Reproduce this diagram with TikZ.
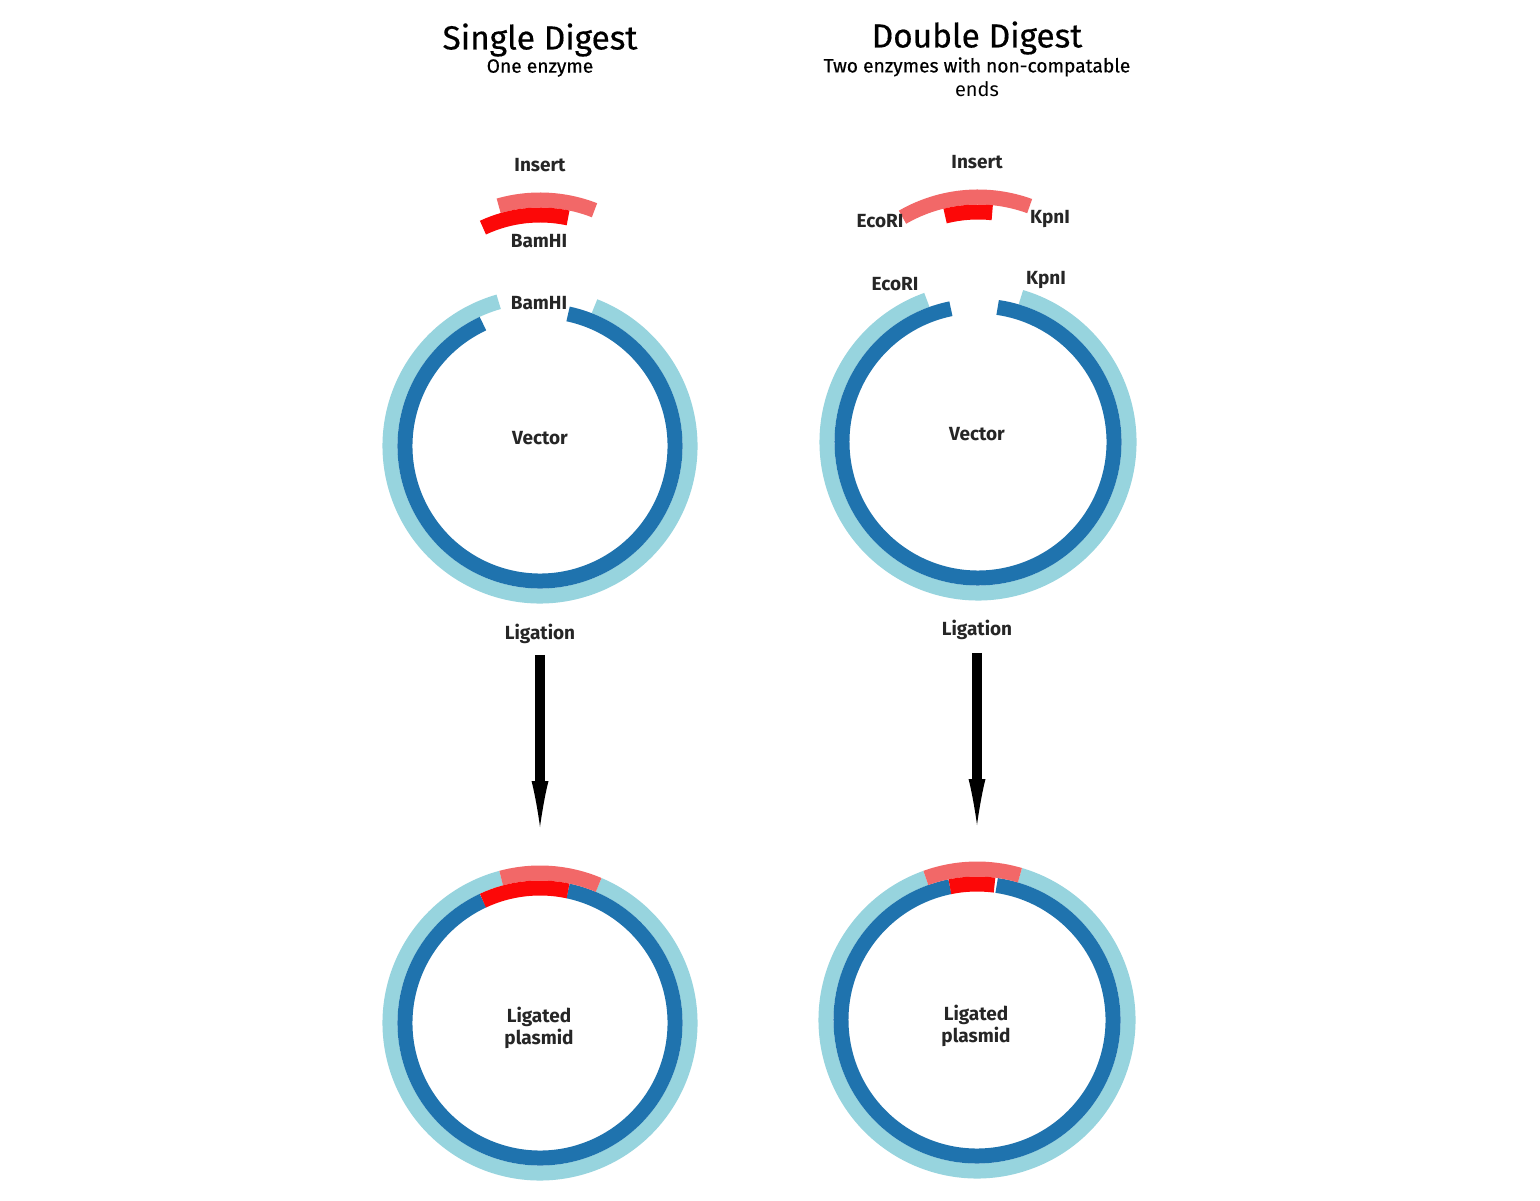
\documentclass[tikz,border=0pt]{standalone}
\usepackage{fontspec}
\setmainfont{Fira Sans}
\usetikzlibrary{arrows.meta, calc}

\definecolor{ringLight}{HTML}{97D4DE}
\definecolor{ringDark}{HTML}{1F73AE}
\definecolor{insLight}{HTML}{F26868}
\definecolor{insDark}{HTML}{FC0808}

\tikzset{
  lightring/.style = {line width = 7.5pt, color = ringLight},
  darkring/.style = {line width = 7.5pt, color = ringDark},
  lightins/.style = {line width = 7.5pt, color = insLight},
  darkins/.style = {line width = 7.5pt, color = insDark},
  plaslabel/.style = {font = \fontsize{9.5}{11}\selectfont\bfseries, text = black!85},
  ligarrow/.style = {line width=5pt, arrows={-Latex[length=23pt,width=8.5pt,line width=0pt]}}
}

% arc of a plasmid: center, radius (px), start angle, end angle, style
\newcommand{\plasarc}[5]{
  \draw[#5] ($(#1) + (#3:#2)$) arc[start angle = #3, end angle = #4, radius = #2*0.5pt];
}

\begin{document}
\begin{tikzpicture}[x = 0.5pt, y = 0.5pt]
        \useasboundingbox[fill = white] (0, 0) rectangle (1540, 1200);

        % centers
        \coordinate (lv) at (540, 754);
        \coordinate (li) at (540, 850);
        \coordinate (lp) at (540, 177);
        \coordinate (rv) at (978, 758);
        \coordinate (ri) at (978, 852);
        \coordinate (rp) at (977, 180);

        % single digest vector and insert
        \plasarc{lv}{150}{106}{428.7}{lightring}
        \plasarc{lv}{135}{115}{438}{darkring}
        \plasarc{li}{150}{68.7}{106}{lightins}
        \plasarc{li}{135}{78}{115}{darkins}

        % single digest ligated plasmid
        \plasarc{lp}{150}{105}{427}{lightring}
        \plasarc{lp}{135}{115}{438}{darkring}
        \plasarc{lp}{150}{67}{105}{lightins}
        \plasarc{lp}{135}{78}{115}{darkins}

        % double digest vector and insert
        \plasarc{rv}{151}{109.8}{433.5}{lightring}
        \plasarc{rv}{136}{101.5}{441.7}{darkring}
        \plasarc{ri}{151}{70}{120}{lightins}
        \plasarc{ri}{136}{84}{104}{darkins}

        % double digest ligated plasmid
        \plasarc{rp}{151}{109.8}{433.5}{lightring}
        \plasarc{rp}{136}{101.5}{441.7}{darkring}
        \plasarc{rp}{151}{73.5}{109.8}{lightins}
        \plasarc{rp}{136}{82.6}{101.5}{darkins}

        % titles
        \node (titleL) at (540, 1160) {\fontsize{16.7}{19}\selectfont\addfontfeature{FakeBold=0.4} Single Digest};
        \node (subL) at (540, 1132) {\fontsize{9.6}{11}\selectfont\addfontfeature{FakeBold=0.6} One enzyme};
        \node (titleR) at (977, 1162) {\fontsize{16.7}{19}\selectfont\addfontfeature{FakeBold=0.4} Double Digest};
        \node[align = center] (subR) at (977, 1123) {\fontsize{9.6}{11}\selectfont\addfontfeature{FakeBold=0.6} Two enzymes with non-compatable\\ends};

        % labels
        \node[plaslabel] (insL) at (540, 1035) {Insert};
        \node[plaslabel] (bamI) at (539, 959) {BamHI};
        \node[plaslabel] (bamV) at (539, 897) {BamHI};
        \node[plaslabel] (insR) at (977, 1038) {Insert};
        \node[plaslabel] (ecoI) at (880, 979) {EcoRI};
        \node[plaslabel] (kpnI) at (1050, 981) {KpnI};
        \node[plaslabel] (ecoV) at (895, 916) {EcoRI};
        \node[plaslabel] (kpnV) at (1046, 920) {KpnI};
        \node[plaslabel] (vecL) at (540, 762) {Vector};
        \node[plaslabel] (vecR) at (977, 766) {Vector};
        \node[plaslabel] (ligL) at (540, 566) {Ligation};
        \node[plaslabel] (ligR) at (977, 570) {Ligation};
        \node[plaslabel, align = center] (plL) at (539, 172) {Ligated\\plasmid};
        \node[plaslabel, align = center] (plR) at (976, 174) {Ligated\\plasmid};

        % ligation arrows
        \coordinate (arrLs) at (540, 545);
        \coordinate (arrL) at (540, 373);
        \coordinate (arrRs) at (977, 547);
        \coordinate (arrR) at (977, 375);
        \draw[ligarrow] (arrLs) -- (arrL);
        \draw[ligarrow] (arrRs) -- (arrR);
      \end{tikzpicture}
\end{document}
